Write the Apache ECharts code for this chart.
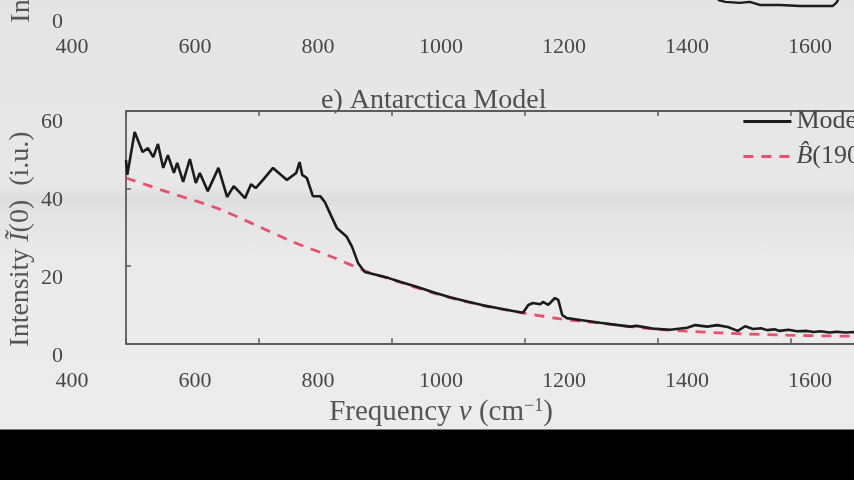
<!DOCTYPE html>
<html>
<head>
<meta charset="utf-8">
<script src="https://cdn.jsdelivr.net/npm/echarts@6/dist/echarts.min.js"></script>
<style>
html,body{margin:0;padding:0;background:#000;}
#wrap{position:relative;width:854px;height:480px;overflow:hidden;
background:linear-gradient(to bottom,#e4e4e4 0px,#e7e7e7 110px,#e7e7e7 186px,#dddddd 200px,#e4e4e4 214px,#eaeaea 260px,#ececec 429px,#000 430px,#000 480px);}
#chart{position:absolute;left:0;top:-100px;width:1000px;height:580px;}
</style>
</head>
<body>
<div id="wrap"><div id="chart"></div></div>
<script>
// ---- data ----
// x tick values (cm^-1) and y tick values (i.u.)
const xTicks = [400, 600, 800, 1000, 1200, 1400, 1600];
const yTicks = [0, 20, 40, 60];

// panel e) : model spectrum (frequency, intensity)
const modelFreq = [400,402,413,425,433,441,448,456,463,472,477,486,496,505,511,523,539,552,562,579,588,595,607,621,642,656,661,665,672,681,692,699,708,717,732,740,749,759,779,794,812,837,862,887,913,937,962,980,997,1005,1012,1023,1027,1035,1045,1050,1056,1063,1088,1113,1140,1158,1168,1192,1218,1244,1256,1274,1289,1305,1320,1331,1343,1355,1364,1375,1383,1396,1409,1424,1434,1444,1458,1469,1482,1495,1505];
const modelInt  = [47.3,43.5,54.6,49.4,50.4,48.1,51.5,45.3,48.6,44.0,46.6,41.7,47.6,41.4,44.0,39.3,45.3,37.8,40.6,37.5,41.1,40.1,42.4,45.3,42.2,44.0,46.8,43.5,42.7,38.0,38.0,36.5,33.1,29.8,27.5,24.9,20.7,18.4,17.6,16.9,15.9,14.6,13.2,11.9,10.8,9.8,9.0,8.4,7.9,9.9,10.4,10.1,10.7,9.9,11.7,11.2,7.3,6.5,5.9,5.3,4.7,4.3,4.5,3.8,3.5,4.0,4.7,4.3,4.7,4.2,3.2,4.4,3.7,3.9,3.4,3.6,3.2,3.5,3.1,3.2,2.9,3.1,2.8,3.0,2.8,2.9,2.8];

// panel e) : Planck reference curve
const planckFreq = [400,462,537,594,651,710,764,812,862,913,962,1053,1113,1192,1293,1394,1505];
const planckInt  = [42.7,39.1,34.9,30.6,26.2,22.3,18.4,15.8,13.0,10.7,8.9,6.3,5.2,3.7,2.7,2.1,1.8];

// panel d) : the bit of the model curve still visible at the top edge
const prevFreq = [1290,1301,1323,1338,1353,1383,1414,1444,1463,1468,1471];
const prevInt  = [1.2,0.9,0.75,0.9,0.45,0.45,0.3,0.3,0.3,0.75,1.2];

const zip = (a, b) => a.map((v, i) => [v, b[i]]);

const FONT = 'Liberation Serif';
const TXT = '#474747';
const NAMEC = '#555555';
const AX = '#5c5c5c';

const chart = echarts.init(document.getElementById('chart'), null, {renderer: 'canvas'});

const xMin = xTicks[0], xStep = xTicks[1] - xTicks[0], xLast = xTicks[xTicks.length - 1];
const yMax = yTicks[yTicks.length - 1], yStep = yTicks[1] - yTicks[0];
const plain = v => String(v);

const option = {
  backgroundColor: 'transparent',
  animation: false,
  title: {
    text: 'e) Antarctica Model',
    left: 321, top: 187, padding: 0,
    textStyle: {fontFamily: FONT, fontSize: 28, fontWeight: 'normal', color: '#505050'}
  },
  legend: {
    left: 742, top: 208.5, orient: 'vertical', padding: 0,
    itemWidth: 48, itemHeight: 14, itemGap: 9,
    itemStyle: {opacity: 0, color: 'transparent', borderColor: 'transparent', borderWidth: 0},
    lineStyle: {width: 2.8},
    textStyle: {fontFamily: FONT, fontSize: 26, color: TXT, lineHeight: 25,
      rich: {i: {fontFamily: FONT, fontSize: 26, fontStyle: 'italic', color: TXT}}},
    formatter: n => n === 'Model' ? 'Model' : '{i|B\u0302}(190 K)',
    data: ['Model', 'B(190 K)']
  },
  grid: [
    {left: 126, right: 9.5, top: 211, bottom: 136.7},   // 0 main plot
    {left: 72, right: 190, top: 400, bottom: 110},      // 1 x labels e
    {left: 72, right: 190, top: 100, bottom: 444},      // 2 x labels d
    {left: 64, right: 900, top: 222, bottom: 124},      // 3 y labels e
    {left: 64, right: 900, top: 44, bottom: 458},       // 4 y labels d
    {left: 126, right: 9.5, top: 40, bottom: 472}       // 5 panel d curve
  ],
  xAxis: [
    {gridIndex: 0, type: 'value', min: xMin, max: 1700, interval: xStep, position: 'bottom',
      axisLine: {show: true, lineStyle: {color: AX, width: 1.8}},
      axisTick: {show: true, inside: true, length: 5, lineStyle: {color: AX, width: 1.5}},
      axisLabel: {show: false}, splitLine: {show: false}},
    {gridIndex: 0, type: 'value', min: xMin, max: 1700, interval: xStep, position: 'top',
      axisLine: {show: true, lineStyle: {color: AX, width: 1.8}},
      axisTick: {show: true, inside: true, length: 5, lineStyle: {color: AX, width: 1.5}},
      axisLabel: {show: false}, splitLine: {show: false}},
    {gridIndex: 1, type: 'value', min: xMin, max: xLast, interval: xStep,
      axisLine: {show: false}, axisTick: {show: false}, splitLine: {show: false},
      axisLabel: {show: true, margin: 0, fontFamily: FONT, fontSize: 22, color: TXT, formatter: plain},
      name: '{n|Frequency }{i|\u03BD}{n| (cm}{s|\u22121}{n|)}',
      nameLocation: 'middle', nameGap: 27,
      nameTextStyle: {rich: {
        n: {fontFamily: FONT, fontSize: 29, color: NAMEC},
        i: {fontFamily: FONT, fontSize: 29, fontStyle: 'italic', color: NAMEC},
        s: {fontFamily: FONT, fontSize: 18, color: NAMEC, verticalAlign: 'top', padding: [0, 0, 12, 0]}
      }}},
    {gridIndex: 2, type: 'value', min: xMin, max: xLast, interval: xStep,
      axisLine: {show: false}, axisTick: {show: false}, splitLine: {show: false},
      axisLabel: {show: true, margin: 0, fontFamily: FONT, fontSize: 22, color: TXT, formatter: plain}},
    {gridIndex: 3, type: 'value', show: false},
    {gridIndex: 4, type: 'value', show: false},
    {gridIndex: 5, type: 'value', min: xMin, max: 1700, show: false}
  ],
  yAxis: [
    {gridIndex: 0, type: 'value', min: 0, max: yMax, interval: yStep,
      axisLine: {show: true, lineStyle: {color: AX, width: 1.8}},
      axisTick: {show: true, inside: true, length: 5, lineStyle: {color: AX, width: 1.5}},
      axisLabel: {show: false}, splitLine: {show: false}},
    {gridIndex: 1, type: 'value', show: false},
    {gridIndex: 2, type: 'value', show: false},
    {gridIndex: 3, type: 'value', min: 0, max: yMax, interval: yStep,
      axisLine: {show: false}, axisTick: {show: false}, splitLine: {show: false},
      axisLabel: {show: true, margin: 1, fontFamily: FONT, fontSize: 22, color: TXT, formatter: plain},
      name: '{n|Intensity }{i|\u0128}{n|(0)  (i.u.)}',
      nameLocation: 'middle', nameGap: 29,
      nameTextStyle: {rich: {
        n: {fontFamily: FONT, fontSize: 28, color: NAMEC},
        i: {fontFamily: FONT, fontSize: 28, fontStyle: 'italic', color: NAMEC}
      }}},
    {gridIndex: 4, type: 'value', min: 0, max: yStep, interval: yStep,
      axisLine: {show: false}, axisTick: {show: false}, splitLine: {show: false},
      axisLabel: {show: true, margin: 1, fontFamily: FONT, fontSize: 22, color: TXT, formatter: plain}},
    {gridIndex: 5, type: 'value', min: 0, max: 10, show: false}
  ],
  graphic: [
    {type: 'text', x: 22, y: 15, rotation: Math.PI / 2,
      style: {text: 'Intensity \u0128(0)  (i.u.)', fontFamily: FONT, fontSize: 28, fill: NAMEC,
        textAlign: 'center', textVerticalAlign: 'middle'}}
  ],
  series: [
    {name: 'Model', type: 'line', xAxisIndex: 0, yAxisIndex: 0, data: zip(modelFreq, modelInt),
      symbol: 'none', lineStyle: {color: '#1b1b1b', width: 2.6}, itemStyle: {color: '#1b1b1b'}, z: 3},
    {name: 'B(190 K)', type: 'line', xAxisIndex: 0, yAxisIndex: 0, data: zip(planckFreq, planckInt),
      symbol: 'none', smooth: 0.3,
      lineStyle: {color: '#e8506d', width: 2.8, type: [10, 8]}, itemStyle: {color: '#e8506d'}, z: 2},
    {name: 'prev', type: 'line', xAxisIndex: 6, yAxisIndex: 5, data: zip(prevFreq, prevInt),
      symbol: 'none', lineStyle: {color: '#1b1b1b', width: 2.4}, z: 3}
  ]
};
chart.setOption(option);
</script>
</body>
</html>
